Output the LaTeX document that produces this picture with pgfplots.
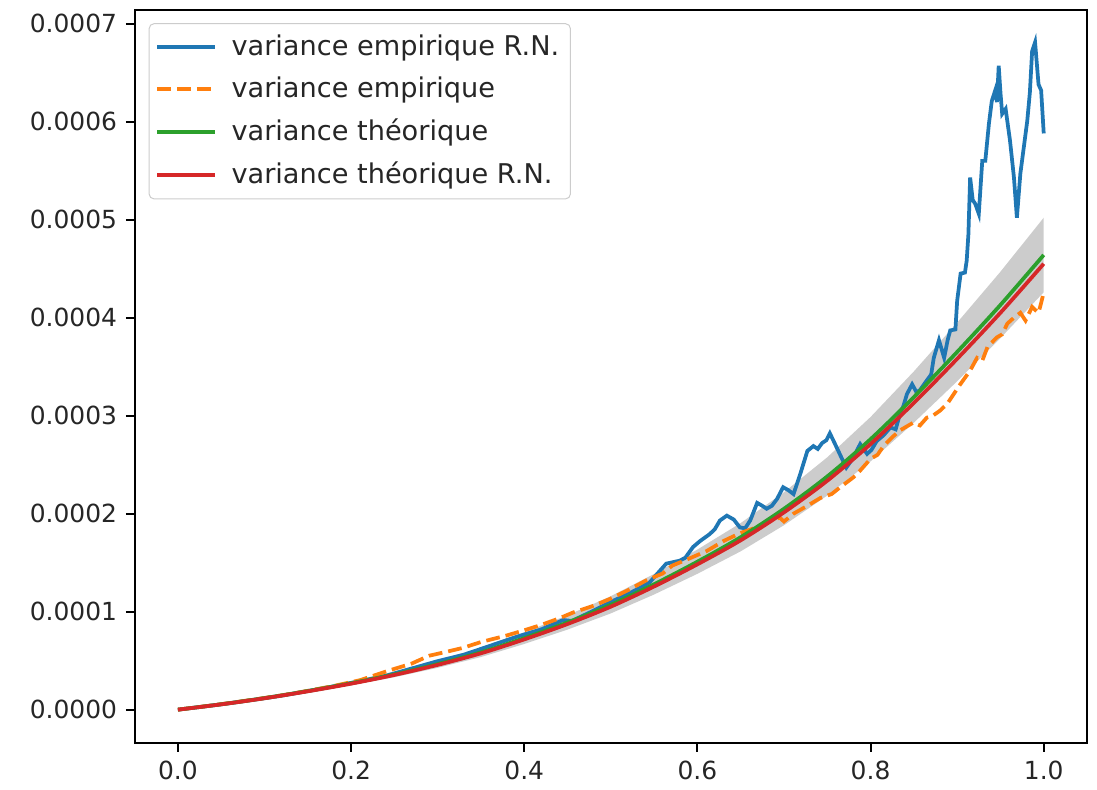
\documentclass[border=0pt]{standalone}
\usepackage{pgfplots}
\pgfplotsset{compat=1.18}
\usepackage{pgfplotstable}
\usepgfplotslibrary{fillbetween}
\usepackage{fontspec}
\setmainfont{DejaVu Sans}
\definecolor{tabblue}{HTML}{1F77B4}
\definecolor{taborange}{HTML}{FF7F0E}
\definecolor{tabgreen}{HTML}{2CA02C}
\definecolor{tabred}{HTML}{D62728}

\pgfplotstableread{
x v
0 0
0.03 0.032e-4
0.06 0.066e-4
0.09 0.104e-4
0.12 0.143e-4
0.15 0.190e-4
0.18 0.238e-4
0.21 0.290e-4
0.24 0.345e-4
0.27 0.420e-4
0.30 0.495e-4
0.33 0.560e-4
0.36 0.650e-4
0.39 0.740e-4
0.42 0.820e-4
0.445 0.915e-4
0.455 0.905e-4
0.48 1.010e-4
0.50 1.100e-4
0.52 1.180e-4
0.535 1.250e-4
0.545 1.300e-4
0.553 1.38e-4
0.564 1.49e-4
0.5795 1.52e-4
0.586 1.55e-4
0.595 1.66e-4
0.603 1.72e-4
0.614 1.79e-4
0.620 1.84e-4
0.626 1.93e-4
0.634 1.98e-4
0.642 1.94e-4
0.649 1.86e-4
0.655 1.85e-4
0.661 1.93e-4
0.669 2.11e-4
0.675 2.08e-4
0.68 2.05e-4
0.686 2.08e-4
0.692 2.15e-4
0.699 2.27e-4
0.705 2.24e-4
0.711 2.20e-4
0.719 2.41e-4
0.727 2.64e-4
0.734 2.69e-4
0.739 2.66e-4
0.744 2.72e-4
0.749 2.75e-4
0.753 2.82e-4
0.759 2.71e-4
0.767 2.56e-4
0.772 2.47e-4
0.78 2.57e-4
0.788 2.71e-4
0.796 2.61e-4
0.801 2.65e-4
0.807 2.74e-4
0.815 2.80e-4
0.823 2.88e-4
0.829 2.86e-4
0.834 3.02e-4
0.838 3.10e-4
0.842 3.22e-4
0.848 3.32e-4
0.853 3.24e-4
0.857 3.26e-4
0.865 3.36e-4
0.870 3.42e-4
0.873 3.59e-4
0.879 3.77e-4
0.885 3.59e-4
0.889 3.77e-4
0.892 3.87e-4
0.898 3.88e-4
0.900 4.17e-4
0.904 4.45e-4
0.909 4.46e-4
0.911 4.58e-4
0.913 4.85e-4
0.915 5.43e-4
0.918 5.20e-4
0.921 5.16e-4
0.925 5.06e-4
0.929 5.60e-4
0.9325 5.60e-4
0.9367 5.98e-4
0.940 6.21e-4
0.944 6.32e-4
0.946 6.20e-4
0.948 6.57e-4
0.950 6.30e-4
0.952 6.08e-4
0.956 6.13e-4
0.961 5.81e-4
0.9656 5.43e-4
0.969 5.02e-4
0.973 5.47e-4
0.977 5.74e-4
0.981 6.01e-4
0.984 6.30e-4
0.9866 6.72e-4
0.990 6.81e-4
0.994 6.38e-4
0.997 6.32e-4
1.000 5.88e-4
}\blue

\pgfplotstableread{
x v
0 0
0.03 0.033e-4
0.06 0.068e-4
0.09 0.106e-4
0.12 0.146e-4
0.15 0.192e-4
0.18 0.242e-4
0.21 0.300e-4
0.244 0.400e-4
0.27 0.470e-4
0.29 0.550e-4
0.31 0.590e-4
0.329 0.630e-4
0.35 0.690e-4
0.379 0.755e-4
0.40 0.810e-4
0.418 0.860e-4
0.44 0.930e-4
0.456 0.990e-4
0.48 1.060e-4
0.499 1.130e-4
0.52 1.220e-4
0.541 1.320e-4
0.56 1.390e-4
0.571 1.470e-4
0.59 1.540e-4
0.611 1.620e-4
0.63 1.720e-4
0.649 1.800e-4
0.665 1.850e-4
0.68 1.910e-4
0.695 1.960e-4
0.70 1.920e-4
0.711 2.000e-4
0.727 2.080e-4
0.742 2.160e-4
0.755 2.200e-4
0.765 2.270e-4
0.78 2.370e-4
0.788 2.440e-4
0.80 2.560e-4
0.808 2.600e-4
0.815 2.690e-4
0.825 2.780e-4
0.834 2.850e-4
0.8496 2.930e-4
0.857 2.900e-4
0.865 2.980e-4
0.872 3.000e-4
0.880 3.050e-4
0.8885 3.120e-4
0.896 3.220e-4
0.9036 3.320e-4
0.915 3.460e-4
0.923 3.590e-4
0.929 3.560e-4
0.935 3.700e-4
0.946 3.800e-4
0.952 3.830e-4
0.958 3.940e-4
0.9656 4.000e-4
0.973 4.050e-4
0.979 3.970e-4
0.9866 4.110e-4
0.990 4.080e-4
0.994 4.050e-4
0.997 4.150e-4
1.0 4.260e-4
}\orange

\pgfplotstableread{
x g r lo hi
0 0 0 0 0
0.05 0.055e-4 0.054e-4 0.0505e-4 0.0595e-4
0.10 0.118e-4 0.116e-4 0.1083e-4 0.1277e-4
0.15 0.190e-4 0.187e-4 0.1744e-4 0.2056e-4
0.20 0.270e-4 0.265e-4 0.2479e-4 0.2921e-4
0.25 0.360e-4 0.354e-4 0.3305e-4 0.3895e-4
0.30 0.465e-4 0.457e-4 0.4269e-4 0.5031e-4
0.35 0.585e-4 0.575e-4 0.5370e-4 0.6330e-4
0.40 0.730e-4 0.717e-4 0.6701e-4 0.7899e-4
0.45 0.890e-4 0.874e-4 0.8170e-4 0.9630e-4
0.50 1.070e-4 1.051e-4 0.9823e-4 1.1577e-4
0.55 1.280e-4 1.257e-4 1.1750e-4 1.3850e-4
0.60 1.510e-4 1.483e-4 1.3862e-4 1.6338e-4
0.65 1.760e-4 1.728e-4 1.6157e-4 1.9043e-4
0.70 2.050e-4 2.013e-4 1.8819e-4 2.2181e-4
0.75 2.380e-4 2.336e-4 2.1848e-4 2.5752e-4
0.80 2.760e-4 2.710e-4 2.5337e-4 2.9863e-4
0.85 3.190e-4 3.130e-4 2.9284e-4 3.4516e-4
0.90 3.650e-4 3.580e-4 3.3507e-4 3.9493e-4
0.95 4.130e-4 4.050e-4 3.7913e-4 4.4687e-4
1.00 4.640e-4 4.550e-4 4.2595e-4 5.0205e-4
}\theo

\begin{document}
\begin{tikzpicture}
\begin{axis}[
  scale only axis,
  width=382pt, height=294pt,
  at={(0,0)}, anchor=south west,
  xmin=-0.05, xmax=1.05,
  ymin=-0.0000340, ymax=0.000714,
  xtick={0,0.2,0.4,0.6,0.8,1.0},
  ytick={0,0.0001,0.0002,0.0003,0.0004,0.0005,0.0006,0.0007},
  scaled y ticks=false,
  scaled x ticks=false,
  xticklabel style={/pgf/number format/.cd, fixed, fixed zerofill, precision=1},
  yticklabel style={/pgf/number format/.cd, fixed, fixed zerofill, precision=4},
  /pgf/number format/assume math mode=true,
  tick label style={font=\fontsize{10}{12}\selectfont, color=black!85},
  tick align=outside,
  tick pos=left,
  major tick length=3.5pt,
  every tick/.style={black, line width=0.8pt},
  axis line style={line width=0.8pt},
  legend cell align=left,
  legend style={at={(0.0147,0.982)}, anchor=north west,
    draw=black!20, rounded corners=2pt, fill=white, fill opacity=0.8, text opacity=1,
    font=\fontsize{10.9}{13}\selectfont, row sep=3.1pt, inner xsep=2.5pt, inner ysep=2.5pt,
    text=black!85},
  legend image code/.code={\draw[#1] (0pt,0pt) -- (23pt,0pt); \path[draw=none] (0pt,0pt) -- (27.8pt,0pt);},
]
\addplot[draw=none, name path=up, forget plot] table[x=x, y=hi] {\theo};
\addplot[draw=none, name path=lo, forget plot] table[x=x, y=lo] {\theo};
\addplot[fill=gray, fill opacity=0.4, draw=none, forget plot] fill between[of=up and lo];
\addplot[tabblue, line width=1.5pt] table[x=x, y=v] {\blue};
\addlegendentry{variance empirique R.N.}
\addplot[taborange, line width=1.5pt, dash pattern=on 5.55pt off 2.4pt] table[x=x, y=v] {\orange};
\addlegendentry{variance empirique}
\addplot[tabgreen, line width=1.5pt, smooth] table[x=x, y=g] {\theo};
\addlegendentry{variance théorique}
\addplot[tabred, line width=1.5pt, smooth] table[x=x, y=r] {\theo};
\addlegendentry{variance théorique R.N.}
\end{axis}
\path (-54pt,-18.5pt) rectangle (386pt,298pt);
\end{tikzpicture}
\end{document}
